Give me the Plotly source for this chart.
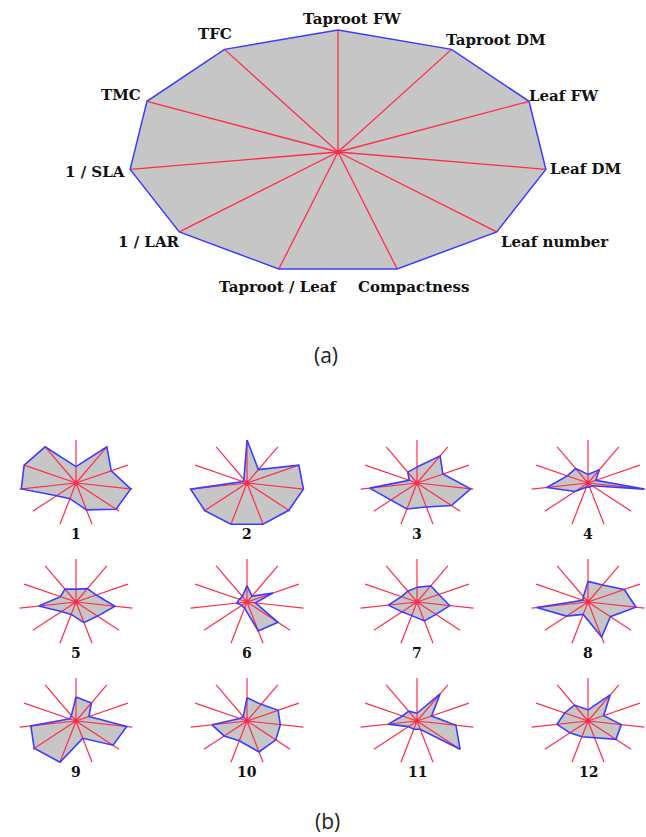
import numpy as np
import plotly.graph_objects as go

# ---------------- data ----------------
traits = ["Taproot FW", "Taproot DM", "Leaf FW", "Leaf DM", "Leaf number",
          "Compactness", "Taproot / Leaf", "1 / LAR", "1 / SLA", "TMC", "TFC"]
reference_max = [1.0, 1.0, 1.0, 1.0, 1.0, 1.0, 1.0, 1.0, 1.0, 1.0, 1.0]

accession_labels = ["1", "2", "3", "4", "5", "6", "7", "8", "9", "10", "11", "12"]
acc1 = [0.38, 1.00, 0.68, 0.97, 0.93, 0.65, 0.38, 0.45, 0.97, 1.00, 1.00]
acc2 = [1.00, 0.37, 1.00, 1.00, 0.97, 1.00, 1.00, 0.98, 1.00, 0.08, 0.10]
acc3 = [0.37, 0.75, 0.50, 0.95, 0.80, 0.58, 0.63, 0.61, 0.84, 0.15, 0.30]
acc4 = [0.20, 0.37, 0.15, 1.00, 0.10, 0.10, 0.10, 0.30, 0.73, 0.40, 0.40]
acc5 = [0.30, 0.37, 0.39, 0.69, 0.50, 0.50, 0.30, 0.34, 0.66, 0.30, 0.36]
acc6 = [0.38, 0.16, 0.50, 0.15, 0.72, 0.70, 0.15, 0.12, 0.18, 0.15, 0.15]
acc7 = [0.34, 0.45, 0.42, 0.58, 0.44, 0.46, 0.33, 0.35, 0.51, 0.30, 0.30]
acc8 = [0.48, 0.47, 0.70, 0.85, 0.52, 0.85, 0.30, 0.50, 0.91, 0.10, 0.15]
acc9 = [0.56, 0.50, 0.25, 0.90, 0.86, 0.42, 1.00, 0.97, 0.80, 0.12, 0.15]
acc10 = [0.54, 0.46, 0.60, 0.59, 0.67, 0.75, 0.48, 0.53, 0.62, 0.14, 0.12]
acc11 = [0.18, 0.75, 0.28, 0.69, 1.00, 0.20, 0.20, 0.20, 0.51, 0.28, 0.27]
acc12 = [0.26, 0.72, 0.30, 0.59, 0.65, 0.40, 0.38, 0.42, 0.55, 0.45, 0.44]
accessions = [acc1, acc2, acc3, acc4, acc5, acc6, acc7, acc8, acc9, acc10, acc11, acc12]

# ---------------- style / layout ----------------
W, H = 646, 837
GRAY = "#c6c6c6"
BLUE = "#3c3cff"
RED = "#ff2d4d"
SERIF = "DejaVu Serif"
SANS = "Open Sans"

n = len(traits)
theta = np.arange(n) * 2 * np.pi / n   # clockwise from top


def to_xy(vals):
    v = np.asarray(vals, dtype=float)
    x = v * np.sin(theta)
    y = v * np.cos(theta)
    return np.append(x, x[0]), np.append(y, y[0])


fig = go.Figure()
layout_axes = {}


def add_radar(idx, vals, cx, cy, rx, ry, pad, line_w, spoke_w, dot):
    sfx = "" if idx == 1 else str(idx)
    x0 = max(0.0, cx - rx * pad); x1 = min(W, cx + rx * pad)
    ytop = max(0.0, cy - ry * pad); ybot = min(H, cy + ry * pad)
    layout_axes["xaxis" + sfx] = dict(domain=[x0 / W, x1 / W],
                                      range=[(x0 - cx) / rx, (x1 - cx) / rx],
                                      visible=False, fixedrange=True,
                                      anchor="y" + sfx)
    layout_axes["yaxis" + sfx] = dict(domain=[1 - ybot / H, 1 - ytop / H],
                                      range=[(cy - ybot) / ry, (cy - ytop) / ry],
                                      visible=False, fixedrange=True,
                                      anchor="x" + sfx)
    xa, ya = "x" + sfx, "y" + sfx
    px, py = to_xy(vals)
    fig.add_trace(go.Scatter(x=px, y=py, mode="lines", fill="toself",
                             fillcolor=GRAY, line=dict(width=0, color=GRAY),
                             xaxis=xa, yaxis=ya, hoverinfo="skip", showlegend=False))
    sx, sy = [], []
    for t in theta:
        sx += [0, np.sin(t), None]
        sy += [0, np.cos(t), None]
    fig.add_trace(go.Scatter(x=sx, y=sy, mode="lines",
                             line=dict(width=spoke_w, color=RED),
                             xaxis=xa, yaxis=ya, hoverinfo="skip", showlegend=False))
    fig.add_trace(go.Scatter(x=px, y=py, mode="lines",
                             line=dict(width=line_w, color=BLUE),
                             xaxis=xa, yaxis=ya, hoverinfo="skip", showlegend=False))
    fig.add_trace(go.Scatter(x=[0], y=[0], mode="markers",
                             marker=dict(size=dot, color=RED),
                             xaxis=xa, yaxis=ya, hoverinfo="skip", showlegend=False))
    return xa, ya


# (a) big radar
xa, ya = add_radar(1, reference_max, 338, 152, 210, 122, 1.08, 1.5, 1.3, 5)

label_style = [  # xanchor, yanchor, xshift, yshift
    ("center", "bottom", 14, 0),
    ("left", "bottom", -8, -2),
    ("left", "middle", -2, 5),
    ("left", "middle", 2, 0),
    ("left", "top", 2, 1),
    ("center", "top", 16, -7),
    ("center", "top", 0, -7),
    ("right", "top", 3, 1),
    ("right", "middle", -3, -3),
    ("right", "middle", -4, 6),
    ("center", "bottom", -9, 4),
]
annotations = []
for k, name in enumerate(traits):
    xan, yan, xs, ys = label_style[k]
    annotations.append(dict(x=np.sin(theta[k]), y=np.cos(theta[k]), xref=xa, yref=ya,
                            text="<b>" + name + "</b>", showarrow=False,
                            xanchor=xan, yanchor=yan, xshift=xs, yshift=ys,
                            font=dict(family=SERIF, size=15, color="#111111")))

# (b) small radars
col_x = [76, 247, 417, 588]
row_y = [483, 602, 721]
for i, vals in enumerate(accessions):
    cx = col_x[i % 4]
    cy = row_y[i // 4]
    add_radar(i + 2, vals, cx, cy, 57, 43, 1.06, 1.6, 1.2, 5)
    annotations.append(dict(x=cx / W, y=1 - (cy + 51) / H, xref="paper", yref="paper",
                            text="<b>" + accession_labels[i] + "</b>", showarrow=False,
                            xanchor="center", yanchor="middle",
                            font=dict(family=SERIF, size=14, color="#111111")))

annotations.append(dict(x=326 / W, y=1 - 355 / H, xref="paper", yref="paper",
                        text="(a)", showarrow=False, xanchor="center", yanchor="middle",
                        font=dict(family=SANS, size=21, color="#222222")))
annotations.append(dict(x=327 / W, y=1 - 821 / H, xref="paper", yref="paper",
                        text="(b)", showarrow=False, xanchor="center", yanchor="middle",
                        font=dict(family=SANS, size=21, color="#222222")))

fig.update_layout(width=W, height=H, margin=dict(l=0, r=0, t=0, b=0),
                  paper_bgcolor="white", plot_bgcolor="rgba(0,0,0,0)",
                  showlegend=False, annotations=annotations, **layout_axes)

fig.write_html("out.html", config={"displayModeBar": False},
               post_script="document.body.style.margin='0';")
